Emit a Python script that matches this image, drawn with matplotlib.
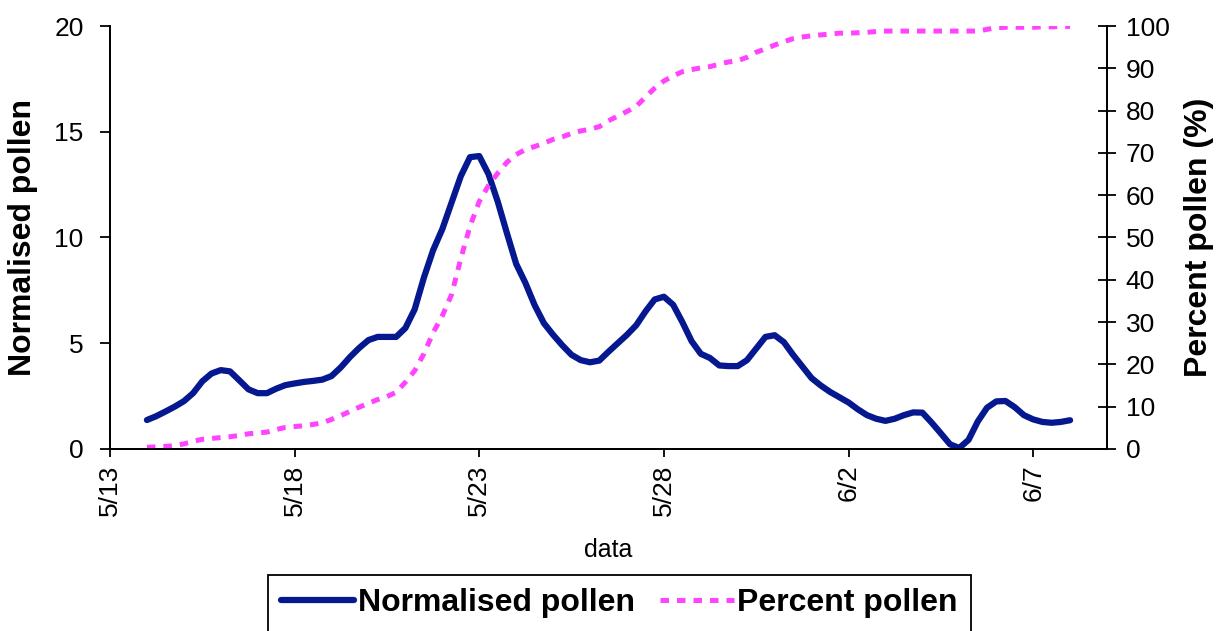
import numpy as np
import pandas as pd
import matplotlib
matplotlib.use('Agg')
import matplotlib.pyplot as plt

# Данные (каждые 6 часов, начиная с 14 мая)
start = pd.Timestamp('2000-05-13')
day_offset = np.arange(1.0, 26.01, 0.25)

normalised = [
    1.37, 1.55, 1.77, 2.00, 2.26, 2.64, 3.20, 3.57, 3.73, 3.67,
    3.25, 2.82, 2.64, 2.64, 2.85, 3.02, 3.10, 3.17, 3.22, 3.28,
    3.45, 3.86, 4.35, 4.78, 5.15, 5.30, 5.30, 5.30, 5.72, 6.60,
    8.10, 9.40, 10.40, 11.65, 12.90, 13.80, 13.85, 13.00, 11.70, 10.20,
    8.75, 7.85, 6.80, 5.95, 5.40, 4.90, 4.45, 4.20, 4.10, 4.18,
    4.60, 5.00, 5.40, 5.85, 6.50, 7.07, 7.20, 6.82, 6.00, 5.10,
    4.50, 4.30, 3.95, 3.92, 3.92, 4.20, 4.75, 5.30, 5.38, 5.05,
    4.45, 3.90, 3.35, 3.00, 2.70, 2.45, 2.20, 1.88, 1.60, 1.43,
    1.33, 1.43, 1.60, 1.73, 1.72, 1.25, 0.74, 0.22, 0.05, 0.43,
    1.30, 1.95, 2.25, 2.27, 1.98, 1.60, 1.40, 1.28, 1.24, 1.28,
    1.36,
]

percent = [
    0.4, 0.5, 0.6, 0.8, 1.2, 1.8, 2.3, 2.5, 2.7, 2.9,
    3.2, 3.6, 3.8, 4.0, 4.6, 5.1, 5.3, 5.5, 5.8, 6.2,
    7.0, 7.9, 8.9, 9.9, 10.8, 11.7, 12.4, 13.4, 15.8, 18.5,
    22.5, 27.5, 31.5, 36.5, 45.0, 52.7, 58.5, 62.3, 65.2, 67.8,
    69.6, 70.8, 71.5, 72.3, 73.2, 73.8, 74.6, 75.2, 75.6, 76.2,
    77.6, 78.7, 79.8, 81.0, 83.2, 85.3, 87.0, 88.2, 89.2, 89.7,
    90.1, 90.4, 91.0, 91.5, 91.8, 92.6, 93.8, 94.6, 95.5, 96.3,
    97.0, 97.4, 97.7, 97.9, 98.1, 98.3, 98.3, 98.4, 98.5, 98.7,
    98.8, 98.8, 98.8, 98.8, 98.8, 98.8, 98.8, 98.8, 98.8, 98.8,
    98.8, 99.2, 99.6, 99.7, 99.7, 99.7, 99.7, 99.8, 99.8, 99.9,
    99.9,
]

tick_dates = ['2000-05-13', '2000-05-18', '2000-05-23', '2000-05-28', '2000-06-02', '2000-06-07']
tick_labels = ['5/13', '5/18', '5/23', '5/28', '6/2', '6/7']

dates = start + pd.to_timedelta(day_offset, unit='D')

plt.rcParams['font.family'] = ['Liberation Sans', 'DejaVu Sans']

fig = plt.figure(figsize=(12.26, 6.31), dpi=100)
ax = fig.add_axes([110 / 1226, 1 - 449 / 631, 997 / 1226, 423 / 631])
ax2 = ax.twinx()

l1, = ax.plot(dates, normalised, color='#06188F', linewidth=4.5,
              solid_joinstyle='round', solid_capstyle='round', label='Normalised pollen')
l2, = ax2.plot(dates, percent, color='#FF44FF', linewidth=3.6,
               linestyle=(0, (1.7, 1.6)), label='Percent pollen')

ax.set_xlim(start, start + pd.Timedelta(days=27))
ax.set_ylim(0, 20)
ax2.set_ylim(0, 100)
ax.set_yticks([0, 5, 10, 15, 20])
ax2.set_yticks(range(0, 101, 10))

ax.set_xticks(pd.to_datetime(tick_dates))
ax.set_xticklabels(tick_labels, rotation=90)

for a in (ax, ax2):
    a.spines['top'].set_visible(False)
    for s in a.spines.values():
        s.set_linewidth(1.3)

ax.tick_params(axis='y', direction='out', length=7, width=1.3, pad=12, labelsize=19)
ax.tick_params(axis='x', direction='out', length=6, width=1.3, pad=5, labelsize=19)
ax2.tick_params(axis='y', direction='inout', length=13, width=1.3, pad=7, labelsize=19)

ax.set_ylabel('Normalised pollen', fontsize=23, fontweight='bold')
ax.yaxis.set_label_coords(-0.072, 0.5)
ax2.set_ylabel('Percent pollen (%)', fontsize=23, fontweight='bold')
ax2.yaxis.set_label_coords(1.077, 0.5)
ax.set_xlabel('data', fontsize=18)
ax.xaxis.set_label_coords(0.5, -0.21)

leg = fig.legend(handles=[l1, l2], loc='upper center', bbox_to_anchor=(0.505, 1 - 575 / 631),
                 ncol=2, fancybox=False, framealpha=1, edgecolor='black',
                 prop={'size': 23, 'weight': 'bold'}, handlelength=2.3,
                 handletextpad=0.1, columnspacing=0.8, borderpad=0.42,
                 borderaxespad=0)
leg.get_frame().set_linewidth(1.3)

fig.savefig('out.png', dpi=100)
